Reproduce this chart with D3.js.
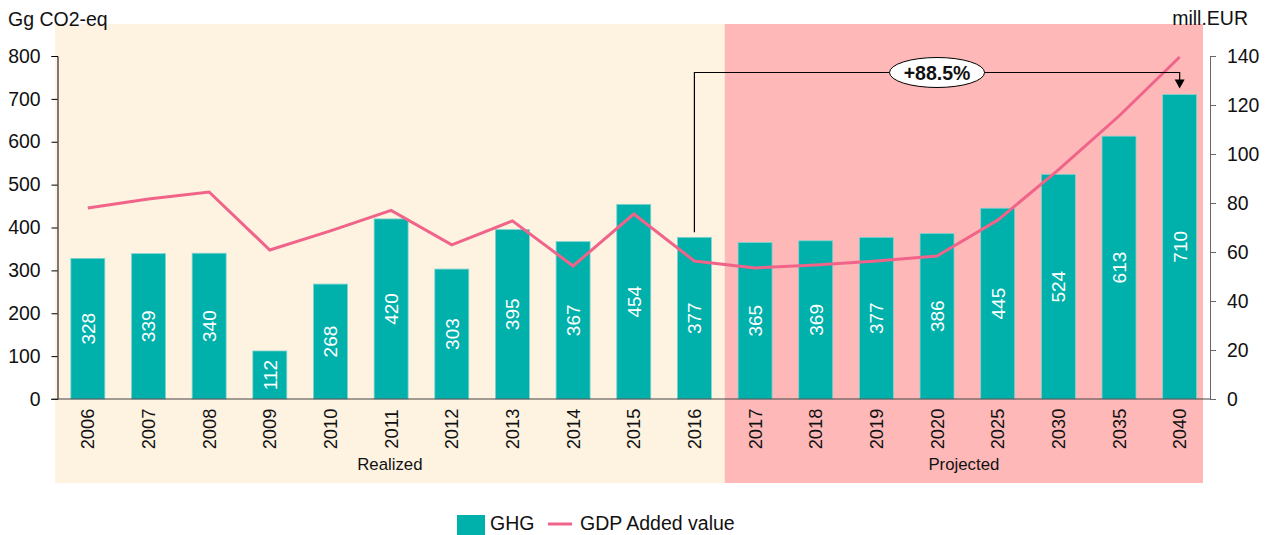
<!DOCTYPE html>
<html>
<head>
<meta charset="utf-8">
<script src="https://cdn.jsdelivr.net/npm/d3@7"></script>
<style>
  body { margin: 0; background: #fff; font-family: "Liberation Sans", Arial, sans-serif; }
  svg text { fill: #111; }
</style>
</head>
<body>
<div id="container"><svg></svg></div>
<script>
let width = 1271;
let height = 535;

// data
let years = ['2006','2007','2008','2009','2010','2011','2012','2013','2014','2015','2016',
             '2017','2018','2019','2020','2025','2030','2035','2040'];
let ghg = [328, 339, 340, 112, 268, 420, 303, 395, 367, 454, 377,
           365, 369, 377, 386, 445, 524, 613, 710];
let gdp = [78, 81.6, 84.5, 60.8, 68.6, 77, 62.9, 72.7, 54.3, 75.5, 56.3,
           53.5, 54.7, 56.3, 58.4, 73, 93.5, 115.5, 139.6];
let realized = years.slice(0, 11);
let projected = years.slice(11);
let leftTicks = [0, 100, 200, 300, 400, 500, 600, 700, 800];
let rightTicks = [0, 20, 40, 60, 80, 100, 120, 140];
let changeLabel = '+88.5%';

let padding = {left: 57.5, right: 61, top: 56, bottom: 136};

let svg = d3.select('#container').select('svg')
    .attr('width', width)
    .attr('height', height);

let x = d3.scaleBand()
    .domain(years)
    .range([padding.left, width - padding.right])
    .paddingInner(0.44)
    .paddingOuter(0.22);

let y = d3.scaleLinear().domain([0, 800]).range([height - padding.bottom, padding.top]);
let y2 = d3.scaleLinear().domain([0, 140]).range([height - padding.bottom, padding.top]);

let step = x.step();
let x0 = padding.left, x1 = width - padding.right;
let xMid = x(projected[0]) - (step - x.bandwidth()) / 2;

// background regions
svg.append('rect')
    .attr('x', x0 - 2.5).attr('y', 24)
    .attr('width', xMid - x0 + 2.5).attr('height', 459)
    .attr('fill', '#fef2e1');
svg.append('rect')
    .attr('x', xMid).attr('y', 24)
    .attr('width', x1 - 7 - xMid).attr('height', 459)
    .attr('fill', '#ffb8b8');

// bars
svg.append('g')
    .selectAll('rect')
    .data(years)
    .enter().append('rect')
    .attr('x', d => x(d))
    .attr('y', (d, i) => y(ghg[i]))
    .attr('width', x.bandwidth())
    .attr('height', (d, i) => y(0) - y(ghg[i]))
    .attr('fill', '#00b0aa')
    .attr('stroke', '#7fd3cf')
    .attr('stroke-width', 0.8);

// bar labels
svg.append('g')
    .selectAll('text')
    .data(years)
    .enter().append('text')
    .attr('transform', (d, i) => `translate(${x(d) + x.bandwidth() / 2 + 7}, ${(y(ghg[i]) + y(0)) / 2}) rotate(-90)`)
    .attr('text-anchor', 'middle')
    .attr('font-size', '19px')
    .style('fill', '#fff')
    .text((d, i) => ghg[i]);

// gdp line
let line = d3.line()
    .x((d, i) => x(years[i]) + x.bandwidth() / 2)
    .y(d => y2(d));
svg.append('path')
    .datum(gdp)
    .attr('d', line)
    .attr('fill', 'none')
    .attr('stroke', '#f0648a')
    .attr('stroke-width', 3);

// left axis
let axisL = svg.append('g')
    .attr('transform', `translate(${padding.left}, 0)`)
    .call(d3.axisLeft(y).tickValues(leftTicks).tickSize(6).tickPadding(11));
axisL.select('.domain').attr('stroke', '#000');
axisL.selectAll('text').attr('font-size', '19.4px').attr('font-family', 'Liberation Sans, Arial, sans-serif').style('fill', '#111');

// right axis
let axisR = svg.append('g')
    .attr('transform', `translate(${x1}, 0)`)
    .call(d3.axisRight(y2).tickValues(rightTicks).tickSize(6).tickPadding(11));
axisR.select('.domain').attr('stroke', '#666');
axisR.selectAll('line').attr('stroke', '#666');
axisR.selectAll('text').attr('font-size', '19.4px').attr('font-family', 'Liberation Sans, Arial, sans-serif').style('fill', '#111');

// x axis line
svg.append('line')
    .attr('x1', x0 - 6).attr('x2', x1)
    .attr('y1', y(0)).attr('y2', y(0))
    .attr('stroke', '#444').attr('stroke-width', 1.2);

// year labels
svg.append('g')
    .selectAll('text')
    .data(years)
    .enter().append('text')
    .attr('transform', d => `translate(${x(d) + x.bandwidth() / 2 + 6.5}, ${y(0) + 30}) rotate(-90)`)
    .attr('text-anchor', 'middle')
    .attr('font-size', '18.3px')
    .text(d => d);

// group labels
svg.append('text')
    .attr('x', (x0 - 2.5 + xMid) / 2).attr('y', 470)
    .attr('text-anchor', 'middle').attr('font-size', '16.8px')
    .text('Realized');
svg.append('text')
    .attr('x', (xMid + x1 - 7) / 2).attr('y', 470)
    .attr('text-anchor', 'middle').attr('font-size', '16.8px')
    .text('Projected');

// axis titles
svg.append('text').attr('x', 8).attr('y', 26).attr('font-size', '19.5px').text('Gg CO2-eq');
svg.append('text').attr('x', 1248).attr('y', 25).attr('text-anchor', 'end').attr('font-size', '19.5px').text('mill.EUR');

// change annotation
let iA = years.indexOf('2016'), iB = years.indexOf('2040');
let ax = x(years[iA]) + x.bandwidth() / 2;
let bx = x(years[iB]) + x.bandwidth() / 2;
let topY = 72.5;
svg.append('path')
    .attr('d', `M${ax},${y(ghg[iA]) - 5}V${topY}H${bx}V${y(ghg[iB]) - 14}`)
    .attr('fill', 'none').attr('stroke', '#000').attr('stroke-width', 1.2);
svg.append('path')
    .attr('d', `M${bx - 5},${y(ghg[iB]) - 15}L${bx + 5},${y(ghg[iB]) - 15}L${bx},${y(ghg[iB]) - 6}Z`)
    .attr('fill', '#000');
let ex = (ax + bx) / 2;
svg.append('ellipse')
    .attr('cx', ex).attr('cy', topY).attr('rx', 47.5).attr('ry', 15)
    .attr('fill', '#fff').attr('stroke', '#000').attr('stroke-width', 1);
svg.append('text')
    .attr('x', ex).attr('y', topY + 7)
    .attr('text-anchor', 'middle').attr('font-size', '19.5px').attr('font-weight', 'bold')
    .text(changeLabel);

// legend
let lg = svg.append('g');
lg.append('rect').attr('x', 457).attr('y', 515).attr('width', 28).attr('height', 20).attr('fill', '#00b0aa');
lg.append('text').attr('x', 490).attr('y', 530).attr('font-size', '19.5px').text('GHG');
lg.append('line').attr('x1', 548).attr('x2', 572).attr('y1', 524).attr('y2', 524)
    .attr('stroke', '#f0648a').attr('stroke-width', 3);
lg.append('text').attr('x', 580).attr('y', 530).attr('font-size', '19.5px').text('GDP Added value');
</script>
</body>
</html>
